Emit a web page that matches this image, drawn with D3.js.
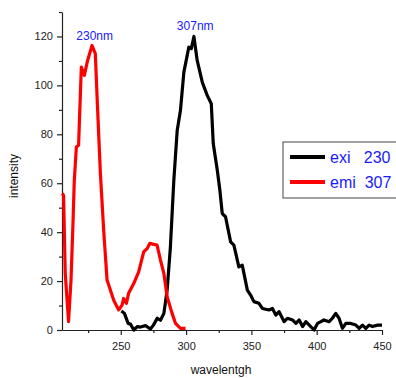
<!DOCTYPE html>
<html>
<head>
<meta charset="utf-8">
<script src="https://cdn.jsdelivr.net/npm/d3@7"></script>
<style>
  body { margin: 0; background: #fff; }
  text { font-family: "Liberation Sans", Arial, sans-serif; }
</style>
</head>
<body>
<div id="chart"></div>
<script>
// exi 230 (black)
var exiX = [250.5, 252.8, 255.6, 257.4, 260, 262.6, 265, 268.9, 272.7, 275, 277.9, 280.4, 283, 285.5, 288, 290.6,
  293.2, 295.7, 298.3, 302.1, 304, 306, 308.5, 312.4, 316.2, 319.3, 320.8, 323.9, 325.9, 327.7, 330.2, 334.1,
  336.6, 340.4, 343, 346.9, 349.4, 351.9, 355.8, 358.4, 363.5, 366.1, 368.7, 371.2, 375.1, 377.6, 381.5, 384.1,
  386.6, 389.2, 391.7, 394.3, 398, 400.6, 403.2, 405.6, 409.5, 412, 414.6, 417.1, 419.7, 422.3, 426.1, 430,
  432.5, 435.1, 437.6, 440.1, 442.7, 446.6, 450];
var exiY = [7.8, 6.8, 2.7, 2.4, 0, 1.4, 1.2, 1.8, 0.4, 2, 4.8, 4, 6.8, 16.3, 34, 61,
  81.6, 89.8, 105.4, 115.6, 115, 120, 110.2, 101.3, 95.9, 92.5, 76.2, 65.3, 57, 47.6, 46.3, 36,
  34.7, 25.8, 26.5, 16.3, 14.3, 11.6, 10.9, 8.8, 8.2, 8.8, 6.1, 7.5, 3.4, 4.8, 4.1, 2.7,
  4.1, 1.4, 3.4, 2, 0, 2.7, 3.4, 4.1, 3.4, 4.8, 6.8, 4.8, 0.7, 2.7, 2.7, 2,
  0.7, 2, 0.7, 2, 1.4, 2, 2];
// emi 307 (red)
var emiX = [205.2, 206.2, 207.5, 210, 211.9, 213.4, 214.4, 216, 217.7, 219.8, 222.1, 224.6, 228, 230.5, 232.3,
  234.4, 236.9, 239.5, 244.6, 248.4, 251, 252.2, 254.3, 256, 259.9, 263.7, 267.6, 270.2, 272.2, 275.2, 277.8,
  280.4, 283, 285.5, 289.3, 291.9, 295.7, 299.6];
var emiY = [55.8, 55, 23, 3.4, 20.4, 43.5, 61, 74.8, 75.5, 107.5, 104.1, 110.2, 116.3, 113, 89.8,
  64, 40.8, 20.4, 12.2, 8.2, 10.2, 12.9, 10.9, 15, 19, 23.8, 32, 33.3, 35.4, 35, 34.7,
  28.6, 23.1, 13.6, 6.8, 2.7, 0.7, 0.7];

var xTicks = [250, 300, 350, 400, 450];
var yTicks = [0, 20, 40, 60, 80, 100, 120];
var seriesNames = ["exi   230", "emi  307"];
var seriesColors = ["#000000", "#ff0000"];
var peakLabels = [{x: 230, y: 116.3, text: "230nm"}, {x: 307, y: 120, text: "307nm"}];

var svgWidth = 396;
var svgHeight = 378;
var margin = {top: 12, right: 14, bottom: 48, left: 62};
var width = svgWidth - margin.left - margin.right;
var height = svgHeight - margin.top - margin.bottom;

var svg = d3.select("#chart")
  .append("svg")
  .attr("width", svgWidth)
  .attr("height", svgHeight);

var chartGroup = svg.append("g")
  .attr("transform", `translate(${margin.left}, ${margin.top})`);

var xScale = d3.scaleLinear().domain([205, 450]).range([0, width]);
var yScale = d3.scaleLinear().domain([0, 130]).range([height, 0]);

// minor ticks
var xMinor = d3.range(225, 451, 25).filter(v => xTicks.indexOf(v) < 0);
var yMinor = d3.range(10, 131, 10).filter(v => yTicks.indexOf(v) < 0);

var bottomAxis = d3.axisBottom(xScale).tickValues(xTicks).tickSize(5).tickSizeOuter(0);
var leftAxis = d3.axisLeft(yScale).tickValues(yTicks).tickSize(5).tickSizeOuter(0);

var xg = chartGroup.append("g")
  .attr("transform", `translate(0, ${height})`)
  .call(bottomAxis);
var yg = chartGroup.append("g").call(leftAxis);

chartGroup.append("g")
  .attr("transform", `translate(0, ${height})`)
  .call(d3.axisBottom(xScale).tickValues(xMinor).tickSize(3).tickFormat(""))
  .select(".domain").remove();
chartGroup.append("g")
  .call(d3.axisLeft(yScale).tickValues(yMinor).tickSize(3).tickFormat(""))
  .select(".domain").remove();

chartGroup.selectAll(".domain, .tick line").attr("stroke", "#222").attr("stroke-width", 1.2);
xg.selectAll("text").attr("font-size", 11).attr("fill", "#222").attr("dy", "1.1em");
yg.selectAll("text").attr("font-size", 11).attr("fill", "#222").attr("dx", "-0.1em");

var line = d3.line()
  .x(d => xScale(d[0]))
  .y(d => yScale(d[1]))
  .curve(d3.curveLinear);

var series = [
  d3.zip(exiX, exiY),
  d3.zip(emiX, emiY)
];

chartGroup.selectAll(".series")
  .data(series)
  .enter()
  .append("path")
  .attr("class", "series")
  .attr("d", line)
  .attr("fill", "none")
  .attr("stroke", (d, i) => seriesColors[i])
  .attr("stroke-width", 3.2)
  .attr("stroke-linejoin", "round");

chartGroup.selectAll(".peak")
  .data(peakLabels)
  .enter()
  .append("text")
  .attr("class", "peak")
  .attr("x", d => xScale(d.x))
  .attr("y", d => yScale(d.y) - 6)
  .attr("text-anchor", "middle")
  .attr("font-size", 12)
  .attr("fill", "#2020ff")
  .text(d => d.text);

// axis titles
svg.append("text")
  .attr("transform", `translate(18, ${margin.top + height / 2 + 5}) rotate(-90)`)
  .attr("text-anchor", "middle")
  .attr("font-size", 12)
  .attr("fill", "#111")
  .text("intensity");
svg.append("text")
  .attr("x", 221)
  .attr("y", 374)
  .attr("text-anchor", "middle")
  .attr("font-size", 12)
  .attr("fill", "#111")
  .text("wavelentgh");

// legend
var legend = svg.append("g").attr("transform", "translate(283, 142)");
legend.append("rect")
  .attr("x", 0).attr("y", 0)
  .attr("width", 130).attr("height", 56)
  .attr("fill", "#fff")
  .attr("stroke", "#444")
  .attr("stroke-width", 1);
var items = legend.selectAll(".item")
  .data(seriesNames)
  .enter()
  .append("g")
  .attr("transform", (d, i) => `translate(0, ${15 + i * 25})`);
items.append("line")
  .attr("x1", 7).attr("x2", 42)
  .attr("y1", 0).attr("y2", 0)
  .attr("stroke", (d, i) => seriesColors[i])
  .attr("stroke-width", 4);
items.append("text")
  .attr("x", 47)
  .attr("y", 6)
  .attr("font-size", 16)
  .attr("fill", "#1a1aff")
  .attr("xml:space", "preserve")
  .style("white-space", "pre")
  .text(d => d);
</script>
</body>
</html>
